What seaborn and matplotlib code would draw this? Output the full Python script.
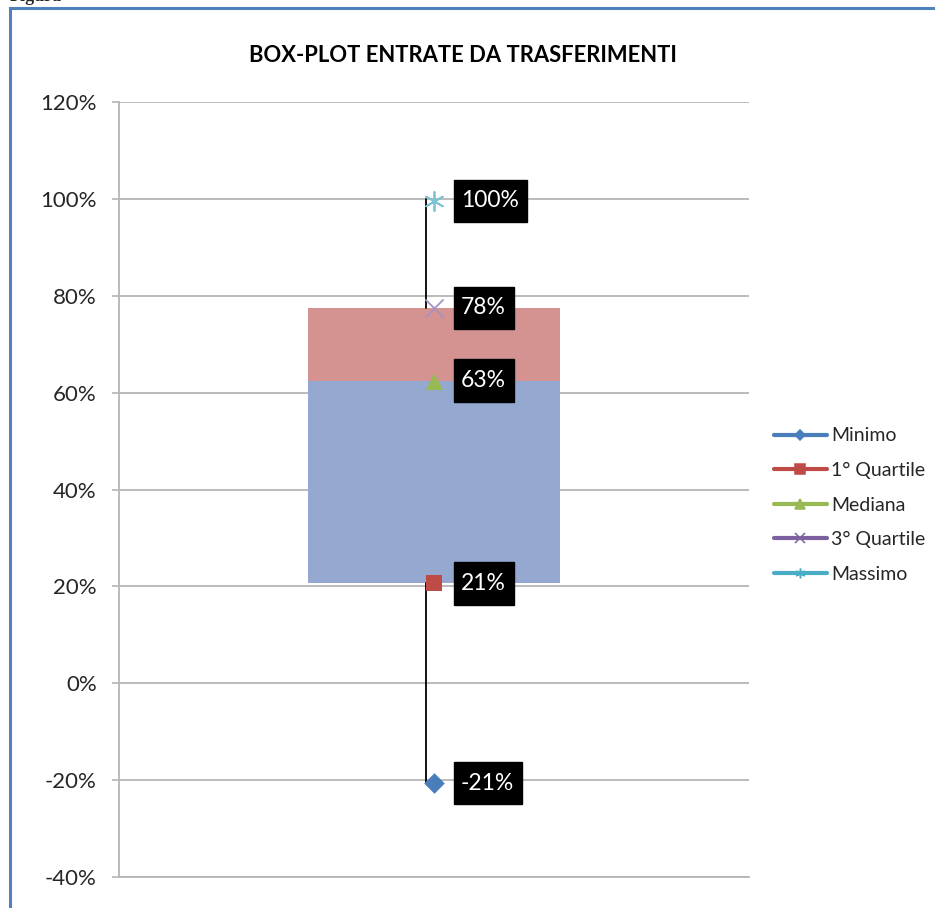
import matplotlib
matplotlib.use("Agg")
import matplotlib.pyplot as plt
import seaborn as sns
import pandas as pd
from matplotlib.lines import Line2D
from matplotlib.patches import Rectangle
from matplotlib.ticker import FixedLocator

# ---- data ----
categories = ["Entrate da trasferimenti"]
stat_names = ["Minimo", "1° Quartile", "Mediana", "3° Quartile", "Massimo"]
stat_values = [-0.206, 0.206, 0.625, 0.775, 0.996]
stat_labels = ["-21%", "21%", "63%", "78%", "100%"]
y_ticks = [-0.4, -0.2, 0.0, 0.2, 0.4, 0.6, 0.8, 1.0, 1.2]
y_tick_labels = ["-40%", "-20%", "0%", "20%", "40%", "60%", "80%", "100%", "120%"]
title = "BOX-PLOT ENTRATE DA TRASFERIMENTI"

# ---- styles ----
marker_colors = ["#4A7EBB", "#BE4B48", "#98B954", "#A393C4", "#7CC3D6"]
legend_colors = ["#4A7EBB", "#BE4B48", "#98B954", "#7D60A0", "#4BACC6"]
markers = ["D", "s", "^", "x", (6, 2, 0)]
marker_sizes = [110, 120, 150, 170, 190]
box_blue = "#95A9D0"
box_red = "#D49291"
grid_col = "#B5B5B5"

sns.set_theme(style="white")
plt.rcParams["font.family"] = ["Lato", "DejaVu Sans"]

fig = plt.figure(figsize=(9.35, 9.08), dpi=100)
ax = fig.add_axes([119 / 935, 1 - 877 / 908, 630 / 935, 775 / 908])

df = pd.DataFrame({"cat": categories * len(stat_names),
                   "stat": stat_names, "value": stat_values})
x0 = 0.0
q_min, q1, med, q3, q_max = stat_values

# box (stacked bars)
ax.bar(x0, med - q1, bottom=q1, width=0.4, color=box_blue, zorder=2, linewidth=0)
ax.bar(x0, q3 - med, bottom=med, width=0.4, color=box_red, zorder=2, linewidth=0)

# whiskers
wx = x0 - 0.0127
ax.plot([wx, wx], [q3, 1.0 if q_max > 0.99 else q_max], color="black", lw=1.3, zorder=3)
ax.plot([wx, wx], [q_min, q1], color="black", lw=1.3, zorder=3)

# markers
for i, row in df.iterrows():
    sub = pd.DataFrame({"x": [x0], "y": [row["value"]]})
    kw = dict(marker=markers[i], s=marker_sizes[i], legend=False, ax=ax, zorder=4)
    if markers[i] in ("x", (6, 2, 0)):
        sns.scatterplot(data=sub, x="x", y="y", color=marker_colors[i],
                        linewidth=1.3, **kw)
    else:
        sns.scatterplot(data=sub, x="x", y="y", color=marker_colors[i],
                        linewidth=0, **kw)
    ax.text(x0 + 0.043, row["value"], stat_labels[i], color="white", fontsize=16.5,
            ha="left", va="center", zorder=5,
            bbox=dict(boxstyle="square,pad=0.33", mutation_aspect=1.4,
                      fc="black", ec="black"))

ax.set_xlim(-0.5, 0.5)
ax.set_ylim(-0.4, 1.2)
ax.set_xlabel("")
ax.set_ylabel("")
ax.set_xticks([])
ax.yaxis.set_major_locator(FixedLocator(y_ticks))
ax.set_yticklabels(y_tick_labels, fontsize=16, color="#262626")
ax.tick_params(axis="y", left=True, length=5, width=1.2, color=grid_col, pad=11)
ax.grid(axis="y", color=grid_col, lw=1.3, zorder=0)
ax.set_axisbelow(True)
for s in ["top", "right"]:
    ax.spines[s].set_visible(False)
ax.spines["left"].set_color(grid_col)
ax.spines["left"].set_linewidth(1.3)
ax.spines["bottom"].set_color(grid_col)
ax.spines["bottom"].set_linewidth(1.3)

# legend
handles = []
leg_ms = [5.5, 6.5, 6.5, 6.5, 7]
for i, name in enumerate(stat_names):
    handles.append(Line2D([0], [0], color=legend_colors[i], lw=3, marker=markers[i],
                          markersize=leg_ms[i], markeredgewidth=1.1,
                          markerfacecolor=legend_colors[i], markeredgecolor=legend_colors[i]))
fig.legend(handles, stat_names, loc="center left",
           bbox_to_anchor=(774 / 935, 1 - 505 / 908), frameon=False,
           fontsize=14, handlelength=2.7, handletextpad=0.25, labelspacing=0.9,
           borderpad=0, borderaxespad=0)

# title
fig.text(463 / 935, 1 - 55 / 908, title, ha="center", va="center",
         fontsize=15.8, fontweight="bold", color="black")

# outer border and cut caption
fig.add_artist(Rectangle((9.5 / 935, -0.05), 1.2, 1.05 - 7.5 / 908,
                         transform=fig.transFigure, fill=False,
                         edgecolor="#4F81BD", lw=2.2))
fig.text(10 / 935, 1 - 1 / 908, "Figura", ha="left", va="baseline",
         fontsize=13, fontweight="bold", family=["Liberation Serif", "DejaVu Serif"])

fig.savefig("out.png", dpi=100)
